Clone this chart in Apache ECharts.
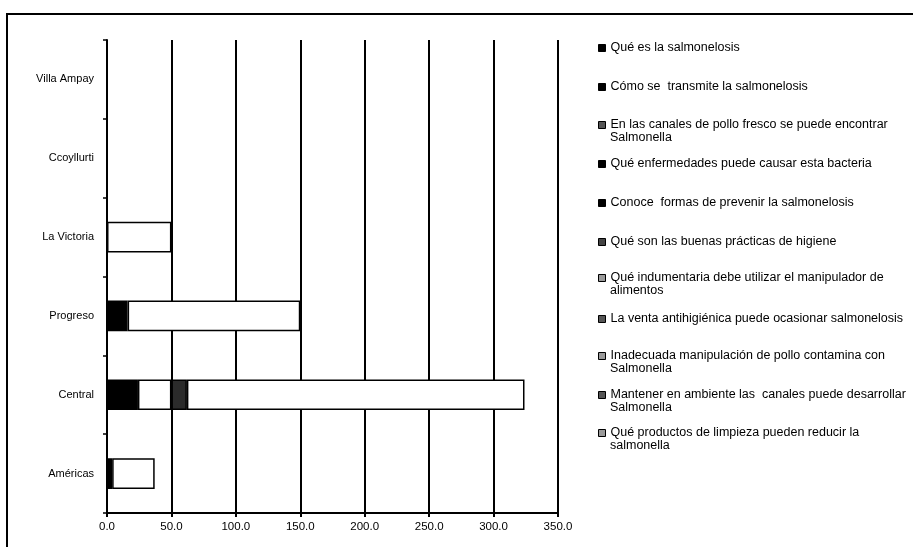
<!DOCTYPE html>
<html>
<head>
<meta charset="utf-8">
<script src="https://cdn.jsdelivr.net/npm/echarts@6/dist/echarts.min.js"></script>
<style>
  html, body { margin: 0; padding: 0; background: #fff; }
  #chart { width: 913px; height: 547px; }
</style>
</head>
<body>
<div id="chart"></div>
<script>
// Mercados (eje vertical, de abajo hacia arriba)
const mercados = ['Américas', 'Central', 'Progreso', 'La Victoria', 'Ccoyllurti', 'Villa Ampay'];

// Preguntas de la encuesta (una serie por pregunta)
const preguntas = [
  'Qué es la salmonelosis',
  'Cómo se  transmite la salmonelosis',
  'En las canales de pollo fresco se puede encontrar\nSalmonella',
  'Qué enfermedades puede causar esta bacteria',
  'Conoce  formas de prevenir la salmonelosis',
  'Qué son las buenas prácticas de higiene',
  'Qué indumentaria debe utilizar el manipulador de\nalimentos',
  'La venta antihigiénica puede ocasionar salmonelosis',
  'Inadecuada manipulación de pollo contamina con\nSalmonella',
  'Mantener en ambiente las  canales puede desarrollar\nSalmonella',
  'Qué productos de limpieza pueden reducir la\nsalmonella'
];

// Respuestas por mercado, en el orden de "mercados"
const queEsSalmonelosis   = [4, 24, 16, 0, 0, 0];
const comoSeTransmite     = [0, 0, 0, 0, 0, 0];
const canalesPolloFresco  = [0, 26, 0, 0, 0, 0];
const enfermedades        = [0, 0, 0, 0, 0, 0];
const formasPrevenir      = [0, 0, 0, 0, 0, 0];
const buenasPracticas     = [0, 12, 0, 0, 0, 0];
const indumentaria        = [33, 262, 134, 50, 0, 0];
const ventaAntihigienica  = [0, 0, 0, 0, 0, 0];
const manipulacionPollo   = [0, 0, 0, 0, 0, 0];
const ambienteCanales     = [0, 0, 0, 0, 0, 0];
const productosLimpieza   = [0, 0, 0, 0, 0, 0];

// Marcas del eje horizontal
const valorTicks = [0, 50, 100, 150, 200, 250, 300, 350];

const valores = [
  queEsSalmonelosis, comoSeTransmite, canalesPolloFresco, enfermedades,
  formasPrevenir, buenasPracticas, indumentaria, ventaAntihigienica,
  manipulacionPollo, ambienteCanales, productosLimpieza
];

// Relleno de cada serie en las barras y en la leyenda
const rellenoBarra   = ['#000', '#000', '#fff', '#000', '#000', '#2b2b2b', '#fff', '#fff', '#fff', '#fff', '#fff'];
const rellenoLeyenda = ['#000', '#000', '#555', '#000', '#000', '#444', '#9a9a9a', '#555', '#9a9a9a', '#555', '#9a9a9a'];

// Diseño de la leyenda: centro vertical de la primera línea de cada entrada
const FONT = '"Liberation Sans", Arial, sans-serif';
const LEG_FONT = 12.5;
const LH = 13;
const LEG_LEFT = 598;
const LEG_MARK = 7;
const filaLeyendaY = [47, 86, 124, 163, 202, 241, 277, 318, 355, 394, 432];

// Una leyenda por pregunta; el marcador va junto a la primera línea
const leyendas = preguntas.map((p, i) => ({
  orient: 'vertical',
  left: LEG_LEFT,
  top: filaLeyendaY[i] - LH / 2 + 1,
  padding: 0,
  itemWidth: LEG_MARK,
  itemHeight: LEG_MARK,
  icon: 'rect',
  selectedMode: false,
  formatter: name => name.split('\n')[0],
  textStyle: { fontSize: LEG_FONT, fontFamily: FONT, color: '#000', lineHeight: LH },
  data: [{
    name: p,
    itemStyle: { color: rellenoLeyenda[i], borderColor: '#000', borderWidth: 1 }
  }]
}));

// Segunda línea de las preguntas largas, alineada con el texto de la leyenda
const segundasLineas = [];
preguntas.forEach((p, i) => {
  const partes = p.split('\n');
  if (partes.length > 1) {
    segundasLineas.push({
      type: 'text',
      silent: true,
      style: {
        text: partes[1],
        x: LEG_LEFT + LEG_MARK + 5,
        y: filaLeyendaY[i] + 1 + LH,
        verticalAlign: 'middle',
        fontSize: LEG_FONT,
        fontFamily: FONT,
        fill: '#000'
      }
    });
  }
});

const chart = echarts.init(document.getElementById('chart'), null, { renderer: 'canvas' });

chart.setOption({
  animation: false,
  backgroundColor: '#fff',
  textStyle: { fontFamily: FONT, color: '#000' },
  graphic: [{
    type: 'rect',
    shape: { x: 7, y: 14, width: 1000, height: 1000 },
    style: { fill: 'none', stroke: '#000', lineWidth: 2 },
    silent: true
  }].concat(segundasLineas),
  grid: { left: 107, right: 355, top: 40, bottom: 34, containLabel: false },
  xAxis: {
    type: 'value',
    min: valorTicks[0],
    max: valorTicks[valorTicks.length - 1],
    interval: valorTicks[1] - valorTicks[0],
    axisLine: { show: true, lineStyle: { color: '#000', width: 2 } },
    axisTick: { show: true, length: 4, lineStyle: { color: '#000', width: 2 } },
    axisLabel: {
      color: '#000', fontSize: 11.5, fontFamily: FONT, margin: 8,
      formatter: v => v.toFixed(1)
    },
    splitLine: { show: true, lineStyle: { color: '#000', width: 2 } }
  },
  yAxis: {
    type: 'category',
    data: mercados,
    axisLine: { show: true, lineStyle: { color: '#000', width: 2 } },
    axisTick: { show: true, length: 4, lineStyle: { color: '#000', width: 1.5 } },
    axisLabel: { color: '#000', fontSize: 11, fontFamily: FONT, margin: 13 },
    splitLine: { show: false }
  },
  legend: leyendas,
  series: preguntas.map((p, i) => ({
    name: p,
    type: 'bar',
    stack: 'total',
    barWidth: '39%',
    itemStyle: { color: rellenoBarra[i], borderColor: '#000', borderWidth: 1.5 },
    data: valores[i].map(v => (v === 0 ? '-' : v))
  }))
});
</script>
</body>
</html>
